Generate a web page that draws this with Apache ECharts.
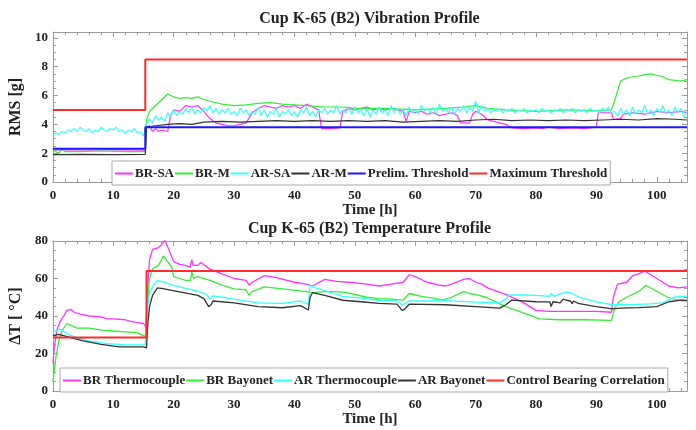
<!DOCTYPE html>
<html>
<head>
<meta charset="utf-8">
<script src="https://cdn.jsdelivr.net/npm/echarts@6/dist/echarts.min.js"></script>
<style>html,body{margin:0;padding:0;background:#fff}#c{width:696px;height:430px}</style>
</head>
<body>
<div id="c"></div>
<script>
// ---------- Vibration profile data ----------
var vibTitle = 'Cup K-65 (B2) Vibration Profile';
var tempTitle = 'Cup K-65 (B2) Temperature Profile';
var vibNames = ['BR-SA', 'BR-M', 'AR-SA', 'AR-M', 'Prelim. Threshold', 'Maximum Threshold'];
var tempNames = ['BR Thermocouple', 'BR Bayonet', 'AR Thermocouple', 'AR Bayonet', 'Control Bearing Correlation'];
var xTicks = [0, 10, 20, 30, 40, 50, 60, 70, 80, 90, 100];

var brSa = [[0,2.2],[3,2.25],[6,2.2],[10,2.25],[15.3,2.2],[15.5,3.8],[16,3.9],[16.5,3.5],[17,3.7],[17.5,3.5],[18,3.6],[19,3.5],[19.5,4.6],[20,5.0],[21,4.9],[22,5.3],[23,5.2],[24,5.3],[25,4.9],[26,4.4],[27,4.1],[28,4.0],[29,3.9],[30,3.9],[31,4.0],[32,4.1],[33,4.8],[34,5.1],[35,5.3],[36,5.2],[37,5.1],[38,5.3],[39,5.2],[40,5.3],[41,5.1],[42,5.4],[43,5.2],[44,5.0],[44.5,3.7],[46,3.7],[47.5,3.75],[48,4.9],[49,5.1],[50,5.0],[51,5.1],[52,5.2],[53,5.0],[54,5.1],[55,5.0],[56,5.1],[57,5.0],[58,4.9],[58.5,4.2],[59,4.9],[60,4.8],[61,4.9],[62,4.7],[63,4.8],[64,4.6],[65,4.7],[66,4.8],[67,4.6],[67.5,4.1],[69,4.1],[69.5,4.7],[70,4.9],[71,4.7],[72,4.3],[73,4.2],[74,4.1],[75,4.0],[76,3.75],[78,3.7],[80,3.75],[81,3.7],[82,3.8],[84,3.7],[86,3.75],[88,3.7],[90,3.8],[90.3,4.8],[92.5,4.8],[92.8,4.35],[94,4.4],[94.5,4.7],[96,4.8],[98,4.7],[100,4.9],[102,4.8],[104,4.9],[105,4.8]];

var brM = [[0,2.3],[0.5,2.1],[1,2.0],[1.5,2.3],[2,2.1],[4,2.1],[8,2.15],[12,2.1],[15.3,2.1],[15.5,4.3],[16,4.9],[17,5.3],[18,5.7],[19,6.1],[20,5.9],[21,5.8],[22,5.85],[23,5.8],[24,5.9],[25,5.7],[26,5.6],[28,5.4],[30,5.3],[32,5.35],[34,5.45],[36,5.5],[38,5.4],[40,5.35],[42,5.3],[45,5.2],[48,5.2],[50,5.1],[55,5.1],[60,5.0],[65,5.1],[68,5.2],[70,5.3],[72,5.1],[75,5.0],[80,4.9],[85,5.0],[90,4.95],[92.5,5.0],[93,5.6],[94,7.0],[95,7.2],[96,7.3],[97,7.35],[98,7.45],[99,7.5],[100,7.4],[101,7.3],[102,7.1],[103,7.05],[104,7.0],[105,7.1]];

// AR-SA sampled every 0.5 h from 0 to 105
var arSaStep = 0.5;
var arSaVals = [
3.2,3.4,3.3,3.5,3.4,3.6,3.5,3.7,3.5,3.8,
3.6,3.5,3.7,3.4,3.6,3.5,3.8,3.6,3.5,3.7,
3.6,3.8,3.5,3.6,3.4,3.6,3.5,3.7,3.4,3.5,
3.2,4.0,4.4,4.1,4.6,4.3,4.5,4.2,4.8,4.5,
5.0,4.6,4.9,4.7,5.1,4.8,5.2,4.7,5.0,4.8,
5.2,4.9,5.3,4.8,5.1,4.7,5.0,4.8,5.1,4.7,
4.9,4.6,5.1,4.8,5.0,4.6,4.9,4.7,5.2,4.6,
5.0,4.5,4.9,4.7,5.1,4.5,4.9,4.7,5.0,4.6,
4.9,4.5,5.0,4.8,5.2,4.6,4.9,4.5,5.0,4.8,
5.1,4.7,5.0,4.8,5.3,4.7,5.0,4.8,5.1,4.7,
5.2,4.8,5.0,4.6,5.1,4.5,5.0,4.7,5.2,4.8,
5.0,4.6,5.3,4.8,5.1,4.7,5.0,4.6,5.2,4.8,
5.0,4.7,5.3,4.9,5.1,4.8,5.2,4.7,5.4,4.9,
5.1,4.8,5.2,4.7,5.1,4.9,5.3,4.8,5.2,4.9,
5.6,4.8,5.3,4.9,5.1,4.8,5.0,4.9,5.1,4.8,
5.0,4.9,5.1,4.8,5.0,4.9,5.1,4.8,5.0,4.9,
5.0,4.8,5.1,4.9,5.0,4.8,5.0,4.9,5.1,4.8,
5.0,4.9,5.1,4.8,5.0,4.9,5.0,4.8,5.1,4.9,
5.0,4.8,5.1,4.9,5.2,4.8,4.9,4.6,5.1,4.7,
5.0,4.6,5.2,4.7,5.0,4.8,5.3,4.7,5.0,4.6,
5.1,4.8,5.3,4.7,5.0,4.6,5.2,4.8,5.1,4.5,
4.9];

var arM = [[0,1.9],[5,1.92],[10,1.9],[15.3,1.92],[15.5,3.8],[17,3.9],[19,4.0],[21,4.05],[23,4.0],[25,4.15],[28,4.2],[31,4.15],[34,4.2],[37,4.25],[40,4.2],[43,4.25],[46,4.2],[49,4.25],[52,4.2],[55,4.25],[58,4.15],[61,4.2],[64,4.25],[67,4.2],[70,4.3],[73,4.35],[76,4.25],[79,4.3],[82,4.25],[85,4.3],[88,4.25],[91,4.3],[94,4.35],[97,4.3],[100,4.4],[103,4.35],[105,4.3]];

var prelim = [[0,2.3],[15.3,2.3],[15.3,3.8],[105,3.8]];
var maxThr = [[0,5],[15.3,5],[15.3,8.5],[105,8.5]];

// ---------- Temperature profile data ----------
var brTc = [[0,15],[0.3,25],[0.7,33],[1.2,37],[1.8,40],[2.3,43],[3,43.5],[3.5,42],[4.5,41],[6,40],[8,39.5],[9,38.5],[10,38.5],[12,38],[13,37],[14,36.5],[15,36],[15.4,34],[15.6,50],[16,70],[16.5,75.5],[17.5,76.5],[18,78],[18.5,80.5],[19,77],[19.5,73],[20,69],[21,67.5],[22,67],[22.7,66],[23,70],[23.2,67],[24,67],[24.5,68.5],[26,65],[28,62.5],[30,60],[32,59],[32.5,56.5],[33,58],[35,61.5],[37,60.5],[40,58],[42,57],[43,56],[45,59.5],[47,58.5],[49,58],[52,57],[54,56],[56,57],[58,58],[59,62],[60,61],[62,58],[64,56.5],[65,56],[66,57],[68,59.5],[69,60],[70,58],[71,57],[72,55],[75,51.5],[78,47],[80,43],[82,42.5],[86,42.5],[90,42.5],[92.5,42],[92.8,50],[93.5,57],[95,58],[96,61.5],[97,62.5],[98,64],[99,62],[100,60],[102,56],[103.5,55],[105,55.5]];

var brBay = [[0,5],[0.5,18],[1,27],[1.5,32],[2.3,36],[3,35],[4,33.5],[6,33.5],[8,32.5],[10,32],[12,31.5],[14,31],[15.3,29],[15.6,45],[16,60],[16.5,65],[17.5,67],[18.3,72],[19,69],[19.7,66],[20,61],[21,60],[22,59],[22.8,59],[23,63.5],[23.3,60],[24,61],[26,59],[28,56.5],[30,54.5],[32,54],[32.5,51],[33,53],[35,55.5],[38,54.5],[42,53],[43,52.5],[45,53],[47,53],[48.7,52.5],[52,50],[54,49.3],[56,49],[58,48.5],[59,52],[61,50.5],[63,49.5],[64.5,48.5],[66,50],[68,53],[69,52],[70.6,51],[71.7,50],[75,45],[78,41.5],[80.6,38.5],[84,38],[88,38],[92.5,37.7],[93,44],[93.7,47.5],[95,50],[97,53],[98.2,56.4],[99.5,54],[101.8,50],[103.5,48.4],[105,48]];

var arTc = [[0,31],[1,33],[1.5,32.5],[2.5,30.2],[4,28.5],[6,26.7],[9,25.3],[12,24.6],[15.3,24.6],[15.5,40],[16,52],[16.5,55.5],[17.3,59],[18.5,58],[20,56.3],[22,54.7],[24,53.2],[25.5,51.5],[26,49],[26.5,50.7],[28,50],[30,49],[34,47],[38,46.7],[41,48],[42.3,46.2],[42.6,56.3],[43.5,55],[45,53.6],[48,50.5],[51,49.5],[54,48.4],[57,48],[57.8,46],[58.2,46.5],[59,48],[62,48],[65,48.2],[70,47.4],[74,47],[75,49],[75.5,51.3],[78,51.2],[80,51],[82.3,50.5],[82.5,52],[83,50.5],[85,52.9],[86,52],[87,50.2],[90,47.5],[92.7,46],[94,46],[97,46.2],[99,46.5],[101,47],[103,50.2],[105,50.6]];

var arBay = [[0,29.5],[1,30.2],[3,28.5],[5,26.7],[8,24.9],[11,23.5],[15,23.5],[15.5,23],[15.7,35],[16,45],[16.5,51],[17.3,55],[18,54.7],[21,52.9],[24,51],[25,49.3],[25.8,45],[26.2,46],[26.5,48],[30,47],[34,45],[38,44.4],[41,45.5],[42.3,43.2],[42.6,50],[43,52.5],[45,51],[48,48.4],[51,47.6],[54,46.7],[57,46.3],[57.8,43],[58.2,43.5],[59,46.3],[65,46],[70,45],[74,44.2],[75,46],[76,48.5],[80,47.6],[82.3,47.5],[82.5,45],[82.8,47.6],[84,47],[84.5,49],[85,48.4],[85.7,48],[86,46.5],[86.2,48],[87,46.7],[89,45.5],[90,45],[92.7,43.8],[94,44.2],[97,44.5],[100,45],[102,47.6],[104,48.5],[105,48.3]];

var control = [[0,28.5],[15.5,28.5],[15.5,64],[105,64]];

// ---------- chart ----------
var arSa = arSaVals.map(function (v, i) { return [i * arSaStep, v]; });
var FONT = '"Liberation Serif", "Times New Roman", serif';
var AX = '#9a9a9a';
var colors = { mag: '#ff33ff', grn: '#33ee33', cyn: '#33ffff', blk: '#333333', blu: '#1a1aff', red: '#ff2a2a' };

function xAxisFor(grid, bottom) {
  return {
    type: 'value', gridIndex: grid, min: 0, max: 105, interval: 10,
    position: bottom ? 'bottom' : 'top',
    name: bottom ? 'Time [h]' : '', nameLocation: 'middle', nameGap: 19,
    nameTextStyle: { fontFamily: FONT, fontWeight: 'bold', fontSize: 15, color: '#222' },
    axisLine: { show: true, onZero: false, lineStyle: { color: AX, width: 1 } },
    axisTick: { show: true, inside: true, length: 5, lineStyle: { color: AX } },
    minorTick: { show: true, splitNumber: 5, length: 3, lineStyle: { color: AX } },
    axisLabel: { show: bottom, margin: 7, fontFamily: FONT, fontWeight: 'bold', fontSize: 13, color: '#222',
      formatter: function (v) { return xTicks.indexOf(v) >= 0 ? String(v) : ''; } },
    splitLine: { show: false }
  };
}
function yAxisFor(grid, left, max, interval, name) {
  return {
    type: 'value', gridIndex: grid, min: 0, max: max, interval: interval,
    position: left ? 'left' : 'right',
    name: left ? name : '', nameLocation: 'middle', nameGap: 24,
    nameTextStyle: { fontFamily: FONT, fontWeight: 'bold', fontSize: 16, color: '#222' },
    axisLine: { show: true, onZero: false, lineStyle: { color: AX, width: 1 } },
    axisTick: { show: true, inside: true, length: 5, lineStyle: { color: AX } },
    minorTick: { show: true, splitNumber: 4, length: 3, lineStyle: { color: AX } },
    axisLabel: { show: left, margin: 5, fontFamily: FONT, fontWeight: 'bold', fontSize: 13, color: '#222',
      formatter: function (v) { return (Math.abs(v / interval - Math.round(v / interval)) < 1e-6) ? String(v) : ''; } },
    splitLine: { show: false }
  };
}
function line(name, data, color, width, xi, yi) {
  return { name: name, type: 'line', data: data, xAxisIndex: xi, yAxisIndex: yi,
    symbol: 'none', showSymbol: false, animation: false,
    lineStyle: { color: color, width: width }, itemStyle: { color: color } };
}
function legendData(names, cols) {
  return names.map(function (n, i) {
    return { name: n, icon: 'rect', itemStyle: { color: cols[i], borderWidth: 0 } };
  });
}
var legendBase = {
  orient: 'horizontal', itemWidth: 18, itemHeight: 2, itemGap: 1,
  padding: [6, 3, 5, 3], borderColor: '#aaaaaa', borderWidth: 1, backgroundColor: '#ffffff',
  textStyle: { fontFamily: FONT, fontWeight: 'bold', fontSize: 13, color: '#222', padding: [0, 0, 0, -3] }
};
var vibCols = [colors.mag, colors.grn, colors.cyn, colors.blk, colors.blu, colors.red];
var tempCols = [colors.mag, colors.grn, colors.cyn, colors.blk, colors.red];

var chart = echarts.init(document.getElementById('c'), null, { renderer: 'canvas' });
chart.setOption({
  animation: false,
  backgroundColor: '#ffffff',
  title: [
    { text: vibTitle, left: 369.5, textAlign: 'center', top: 11, padding: 0,
      textStyle: { fontFamily: FONT, fontWeight: 'bold', fontSize: 16, color: '#222' } },
    { text: tempTitle, left: 369.5, textAlign: 'center', top: 221, padding: 0,
      textStyle: { fontFamily: FONT, fontWeight: 'bold', fontSize: 16, color: '#222' } }
  ],
  grid: [
    { left: 52, right: 9, top: 32, height: 150 },
    { left: 52, right: 9, top: 241, height: 150 }
  ],
  xAxis: [xAxisFor(0, true), xAxisFor(0, false), xAxisFor(1, true), xAxisFor(1, false)],
  yAxis: [yAxisFor(0, true, 10.4, 2, 'RMS [g]'), yAxisFor(0, false, 10.4, 2, ''),
          yAxisFor(1, true, 80, 20, 'ΔT [ °C]'), yAxisFor(1, false, 80, 20, '')],
  legend: [
    Object.assign({}, legendBase, { left: 112, top: 161, data: legendData(vibNames, vibCols) }),
    Object.assign({}, legendBase, { left: 60, top: 368, data: legendData(tempNames, tempCols) })
  ],
  series: [
    line(vibNames[0], brSa, colors.mag, 1.2, 0, 0),
    line(vibNames[1], brM, colors.grn, 1.2, 0, 0),
    line(vibNames[2], arSa, colors.cyn, 1.2, 0, 0),
    line(vibNames[3], arM, colors.blk, 1.2, 0, 0),
    line(vibNames[4], prelim, colors.blu, 2, 0, 0),
    line(vibNames[5], maxThr, colors.red, 2, 0, 0),
    line(tempNames[0], brTc, colors.mag, 1.3, 2, 2),
    line(tempNames[1], brBay, colors.grn, 1.3, 2, 2),
    line(tempNames[2], arTc, colors.cyn, 1.3, 2, 2),
    line(tempNames[3], arBay, colors.blk, 1.3, 2, 2),
    line(tempNames[4], control, colors.red, 2, 2, 2)
  ]
});
</script>
</body>
</html>
